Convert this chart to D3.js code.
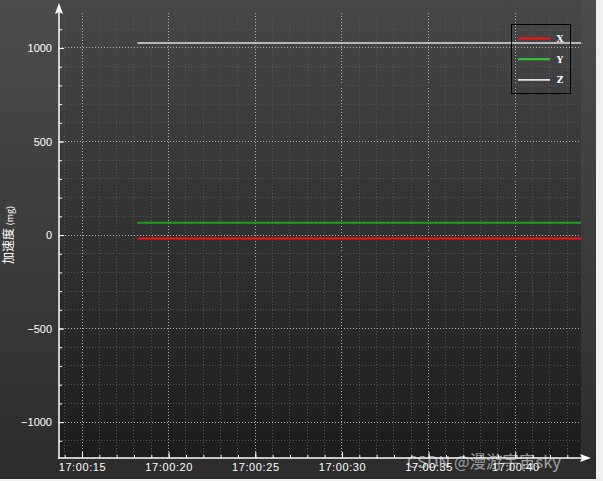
<!DOCTYPE html>
<html><head><meta charset="utf-8">
<script src="https://cdn.jsdelivr.net/npm/d3@7"></script>
<style>html,body{margin:0;padding:0;background:#f0f0f0;overflow:hidden}</style>
</head><body>
<svg id="c" width="603" height="481"></svg>
<script>
// ---- data ----
const seriesNames = ["X", "Y", "Z"];
const seriesColors = ["#ff1010", "#1fa01f", "#dcdcdc"];
const legendColors = ["#ff1010", "#33cc33", "#ffffff"];
const times = ["17:00:18.2", "17:00:20", "17:00:25", "17:00:30", "17:00:35", "17:00:40", "17:00:43.8"];
const xValues = [-18, -18, -18, -18, -18, -18, -18];
const yValues = [66, 66, 66, 66, 66, 66, 66];
const zValues = [1027, 1027, 1027, 1027, 1027, 1027, 1027];
const yTicks = [-1000, -500, 0, 500, 1000];
const xTickLabels = ["17:00:15", "17:00:20", "17:00:25", "17:00:30", "17:00:35", "17:00:40"];
const yTitle = "加速度";
const yUnit = "(mg)";
const watermark = "CSDN @漫游宇宙sky";

const parse = s => {
  const [h, m, sec] = s.split(":");
  return new Date(2000, 0, 1, +h, +m, 0, Math.round(parseFloat(sec) * 1000));
};
const svg = d3.select("#c");
const W = 596, H = 479;
const L = 59, R = 581, T = 13, B = 458;

const defs = svg.append("defs");
const g1 = defs.append("linearGradient").attr("id", "panel").attr("x1", 0).attr("y1", 0).attr("x2", 0).attr("y2", 1);
g1.append("stop").attr("offset", 0).attr("stop-color", "#4c4c4c");
g1.append("stop").attr("offset", 1).attr("stop-color", "#2c2c2c");
const g2 = defs.append("linearGradient").attr("id", "plot").attr("x1", 0).attr("y1", 0).attr("x2", 0).attr("y2", 1);
g2.append("stop").attr("offset", 0).attr("stop-color", "#474747");
g2.append("stop").attr("offset", 1).attr("stop-color", "#1c1c1c");

svg.append("rect").attr("width", W).attr("height", H).attr("fill", "url(#panel)");
svg.append("rect").attr("x", L).attr("y", 0).attr("width", R - L).attr("height", B).attr("fill", "url(#plot)");

const x = d3.scaleTime().domain([parse("17:00:13.673"), parse("17:00:43.79")]).range([L, R]);
const y = d3.scaleLinear().domain([-1192, 1187]).range([B, T]);

// grid
const secTicks = x.ticks(d3.timeSecond.every(1));
const minorY = d3.range(-1100, 1101, 100);
const grid = svg.append("g");
secTicks.forEach(t => {
  const major = t.getSeconds() % 5 === 0;
  grid.append("line").attr("x1", x(t)).attr("x2", x(t)).attr("y1", T).attr("y2", B)
    .attr("stroke", major ? "#b0b0b0" : "#555555").attr("stroke-dasharray", "1,2").attr("stroke-width", 1)
    .attr("shape-rendering", "crispEdges");
});
minorY.forEach(v => {
  const major = v % 500 === 0;
  grid.append("line").attr("x1", L).attr("x2", R).attr("y1", y(v)).attr("y2", y(v))
    .attr("stroke", major ? "#b0b0b0" : "#555555").attr("stroke-dasharray", "1,2").attr("stroke-width", 1)
    .attr("shape-rendering", "crispEdges");
});

// lines
const allVals = [xValues, yValues, zValues];
const line = d3.line().x((d, i) => x(parse(times[i]))).y(d => y(d));
allVals.forEach((vals, k) => {
  svg.append("path").datum(vals).attr("d", line).attr("fill", "none")
    .attr("stroke", seriesColors[k]).attr("stroke-width", k === 2 ? 1.5 : 2);
});

// axes
const yAxisMinor = d3.axisRight(y).tickValues(minorY).tickSize(3).tickFormat("");
const yAxisMajor = d3.axisRight(y).tickValues(yTicks).tickSize(5).tickFormat("");
[yAxisMinor, yAxisMajor].forEach(a => {
  const g = svg.append("g").attr("transform", `translate(${L},0)`).call(a);
  g.select(".domain").remove();
  g.selectAll("line").attr("stroke", "#fff");
});
const yl = svg.append("g").attr("transform", `translate(${L},0)`)
  .call(d3.axisLeft(y).tickValues(yTicks).tickSize(0).tickPadding(7).tickFormat(d => d < 0 ? "\u2212" + Math.abs(d) : d));
yl.select(".domain").remove();
yl.selectAll("text").attr("fill", "#fff").attr("font-family", "Liberation Sans, Arial, sans-serif").attr("font-size", 11);

const xAxisMinor = d3.axisTop(x).tickValues(secTicks).tickSize(3).tickFormat("");
const xAxisMajor = d3.axisTop(x).tickValues(xTickLabels.map(parse)).tickSize(6).tickFormat("");
[xAxisMinor, xAxisMajor].forEach(a => {
  const g = svg.append("g").attr("transform", `translate(0,${B})`).call(a);
  g.select(".domain").remove();
  g.selectAll("line").attr("stroke", "#fff");
});
const xl = svg.append("g").attr("transform", `translate(0,${B})`)
  .call(d3.axisBottom(x).tickValues(xTickLabels.map(parse)).tickSize(0).tickPadding(5)
    .tickFormat((d, i) => xTickLabels[i]));
xl.select(".domain").remove();
xl.selectAll("text").attr("fill", "#fff").attr("font-family", "Liberation Sans, Arial, sans-serif")
  .attr("font-size", 11).attr("letter-spacing", "0.6px");

// axis lines + arrows
svg.append("line").attr("x1", L).attr("x2", L).attr("y1", 10).attr("y2", B + 1).attr("stroke", "#fff").attr("stroke-width", 1.5);
svg.append("line").attr("x1", L - 1).attr("x2", 584).attr("y1", B).attr("y2", B).attr("stroke", "#fff").attr("stroke-width", 1.5);
svg.append("path").attr("d", `M${L},3 L${L - 4},14 L${L},12 L${L + 4},14 Z`).attr("fill", "#fff");
svg.append("path").attr("d", `M591,${B} L580,${B - 4} L582,${B} L580,${B + 4} Z`).attr("fill", "#fff");

// y title
const yt = svg.append("text").attr("transform", "translate(13,235) rotate(-90)")
  .attr("text-anchor", "middle").attr("fill", "#fff").attr("font-family", "Noto Sans CJK SC, sans-serif");
yt.append("tspan").attr("font-size", 12).text(yTitle + " ");
yt.append("tspan").attr("font-size", 9).text(yUnit);

// legend
const lg = svg.append("g");
lg.append("rect").attr("x", 511.5).attr("y", 24.5).attr("width", 59).attr("height", 69)
  .attr("fill", "none").attr("stroke", "#000").attr("stroke-width", 1);
seriesNames.forEach((n, i) => {
  const yy = 38.5 + i * 20.7;
  lg.append("line").attr("x1", 518).attr("x2", 550).attr("y1", yy).attr("y2", yy)
    .attr("stroke", legendColors[i]).attr("stroke-width", i === 2 ? 1.5 : 2);
  lg.append("text").attr("x", 560).attr("y", yy + 3.5).attr("text-anchor", "middle")
    .attr("fill", "#fff").attr("font-family", "DejaVu Serif, serif").attr("font-size", 9).attr("font-weight", "bold").text(n);
});

// watermark (present in the reference image, overlapping the axis labels)
svg.append("text").attr("x", 407).attr("y", 468).attr("fill", "#ffffff").attr("fill-opacity", 0.55)
  .attr("font-family", "Noto Sans CJK SC, sans-serif").attr("font-size", 16.5).text(watermark);
</script>
</body></html>
